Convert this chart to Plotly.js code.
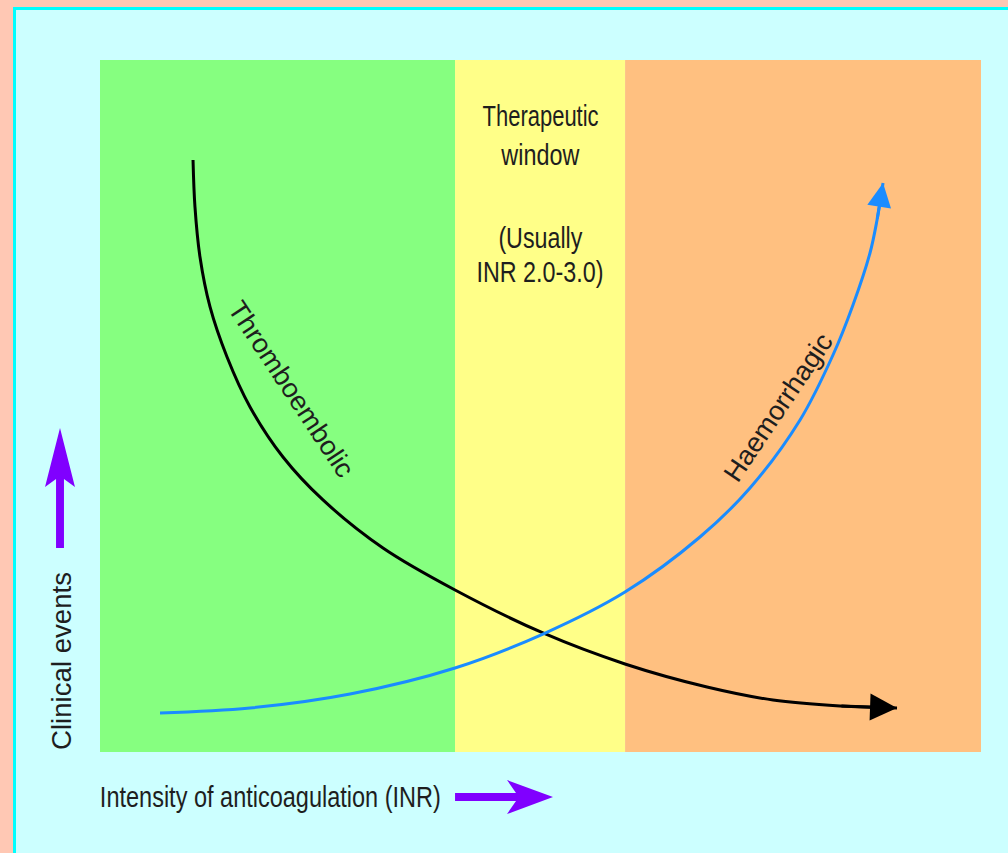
<!DOCTYPE html>
<html>
<head>
<meta charset="utf-8">
<script src="https://cdn.plot.ly/plotly-3.0.1.min.js"></script>
<style>html,body{margin:0;padding:0;background:#ffc8b4;}#chart{width:1008px;height:853px;}</style>
</head>
<body>
<div id="chart"></div>
<script>
// ---- data (schematic units: intensity 0-100 across, clinical events 0-100 up) ----
const zoneEdges = [0, 40.3, 59.6, 100];            // low | therapeutic window | high
const zoneNames = ["Under-anticoagulated", "Therapeutic window", "Over-anticoagulated"];

const thromboX = [10.56, 10.78, 11.35, 12.49, 14.42, 17.03, 20.77, 25.31, 32.12, 40.30, 50.28, 59.59, 68.90, 76.39, 83.99, 90.47];
const thromboY = [85.55, 78.76, 71.53, 64.31, 57.08, 49.86, 42.63, 36.42, 29.48, 23.41, 17.20, 12.72, 9.39, 7.51, 6.65, 6.36];

const haemX = [6.81, 17.03, 28.38, 40.30, 50.28, 59.59, 68.10, 73.78, 79.46, 83.20, 85.47, 87.40, 88.20, 88.88];
const haemY = [5.64, 6.36, 8.38, 12.14, 17.05, 23.12, 31.07, 38.15, 47.98, 57.37, 64.60, 72.11, 76.88, 82.23];

const thromboLabel = "Thromboembolic";
const haemLabel = "Haemorrhagic";
const windowLines = ["Therapeutic", "window", "(Usually", "INR 2.0-3.0)"];
const xLabel = "Intensity of anticoagulation (INR)";
const yLabel = "Clinical events";

// ---- styles / layout helpers ----
const zoneColors = ["#86ff80", "#ffff88", "#ffc080"];
const FONT = '"Liberation Sans", Arial, sans-serif';
const TXT = "#1e1e1e";
const PURPLE = "#8000ff";
const BLUE = "#1a8cff";
const PX = (px) => (px - 100) / 881;     // page pixel -> paper x
const PY = (py) => (752 - py) / 692;     // page pixel -> paper y
const P = (px, py) => PX(px).toFixed(4) + "," + PY(py).toFixed(4);

const traces = [
  {x: thromboX, y: thromboY, mode: "lines", name: thromboLabel,
   line: {color: "#000000", width: 3, shape: "spline", smoothing: 1}, hoverinfo: "skip"},
  {x: haemX, y: haemY, mode: "lines", name: haemLabel,
   line: {color: BLUE, width: 3, shape: "spline", smoothing: 1}, hoverinfo: "skip"}
];

const shapes = [
  {type: "rect", xref: "paper", yref: "paper", layer: "below",
   x0: PX(14.5), x1: PX(1030), y0: PY(880), y1: PY(8.5),
   fillcolor: "#ccffff", line: {color: "#00ffff", width: 3}}
];
for (let i = 0; i < zoneColors.length; i++) {
  shapes.push({type: "rect", xref: "x", yref: "paper", layer: "below",
    x0: zoneEdges[i], x1: zoneEdges[i + 1], y0: 0, y1: 1,
    fillcolor: zoneColors[i], line: {width: 0}});
}
// purple direction arrows (decoration)
shapes.push({type: "path", xref: "paper", yref: "paper", layer: "above",
  path: "M" + P(56, 548) + "L" + P(56, 479) + "L" + P(45, 487) + "L" + P(60, 428) +
        "L" + P(75, 487) + "L" + P(64, 479) + "L" + P(64, 548) + "Z",
  fillcolor: PURPLE, line: {width: 0}});
shapes.push({type: "path", xref: "paper", yref: "paper", layer: "above",
  path: "M" + P(455, 793) + "L" + P(516, 793) + "L" + P(507, 780) + "L" + P(553, 797) +
        "L" + P(507, 814) + "L" + P(516, 801) + "L" + P(455, 801) + "Z",
  fillcolor: PURPLE, line: {width: 0}});

const nT = thromboX.length, nH = haemX.length;
const midWindow = (zoneEdges[1] + zoneEdges[2]) / 2;

const annotations = [];
const fit = {};   // annotation index -> target text length in px (condensed lettering)
function addText(a, target) {
  if (target) fit[annotations.length] = target;
  a.xanchor = "center"; a.yanchor = "middle";
  annotations.push(a);
}

// curve arrowheads
addText({x: thromboX[nT - 1], y: thromboY[nT - 1], ax: thromboX[nT - 2], ay: thromboY[nT - 2],
  xref: "x", yref: "y", axref: "x", ayref: "y", text: "", showarrow: true,
  arrowhead: 2, arrowwidth: 3, arrowsize: 1.8, arrowcolor: "#000000", standoff: 0});
addText({x: haemX[nH - 1], y: haemY[nH - 1], ax: haemX[nH - 2], ay: haemY[nH - 2],
  xref: "x", yref: "y", axref: "x", ayref: "y", text: "", showarrow: true,
  arrowhead: 2, arrowwidth: 3, arrowsize: 1.6, arrowcolor: BLUE, standoff: 0});
// curve labels
addText({x: 21.7, y: 52.5, xref: "x", yref: "y", text: thromboLabel, showarrow: false,
  textangle: 56.5, font: {family: FONT, size: 27, color: TXT}}, 205);
addText({x: 77.0, y: 49.9, xref: "x", yref: "y", text: haemLabel, showarrow: false,
  textangle: -56, font: {family: FONT, size: 27, color: TXT}}, 172);
// therapeutic window text
const winY = [116, 155, 238, 272];
const winW = [116, 78, 84, 127];
windowLines.forEach((t, i) => addText({x: midWindow, y: PY(winY[i]), xref: "x", yref: "paper",
  text: t, showarrow: false, font: {family: FONT, size: 29, color: TXT}}, winW[i]));
// axis labels
addText({x: PX(100 + 341 / 2), y: PY(797), xref: "paper", yref: "paper",
  text: xLabel, showarrow: false, font: {family: FONT, size: 29, color: TXT}}, 341);
addText({x: PX(62), y: PY(661), xref: "paper", yref: "paper",
  text: yLabel, textangle: -90, showarrow: false, font: {family: FONT, size: 27, color: TXT}}, 178);

const layout = {
  width: 1008, height: 853,
  margin: {l: 100, r: 27, t: 60, b: 101, pad: 0},
  paper_bgcolor: "#ffc8b4",
  plot_bgcolor: "rgba(0,0,0,0)",
  showlegend: false,
  xaxis: {range: [0, 100], visible: false, fixedrange: true},
  yaxis: {range: [0, 100], visible: false, fixedrange: true},
  shapes: shapes,
  annotations: annotations
};

Plotly.newPlot("chart", traces, layout, {displayModeBar: false, staticPlot: true}).then(gd => {
  gd.querySelectorAll("g.annotation").forEach(g => {
    const idx = +g.getAttribute("data-index");
    const target = fit[idx];
    const t = g.querySelector("text.annotation-text");
    if (target && t) {
      t.setAttribute("textLength", target);
      t.setAttribute("lengthAdjust", "spacingAndGlyphs");
    }
  });
});
</script>
</body>
</html>
